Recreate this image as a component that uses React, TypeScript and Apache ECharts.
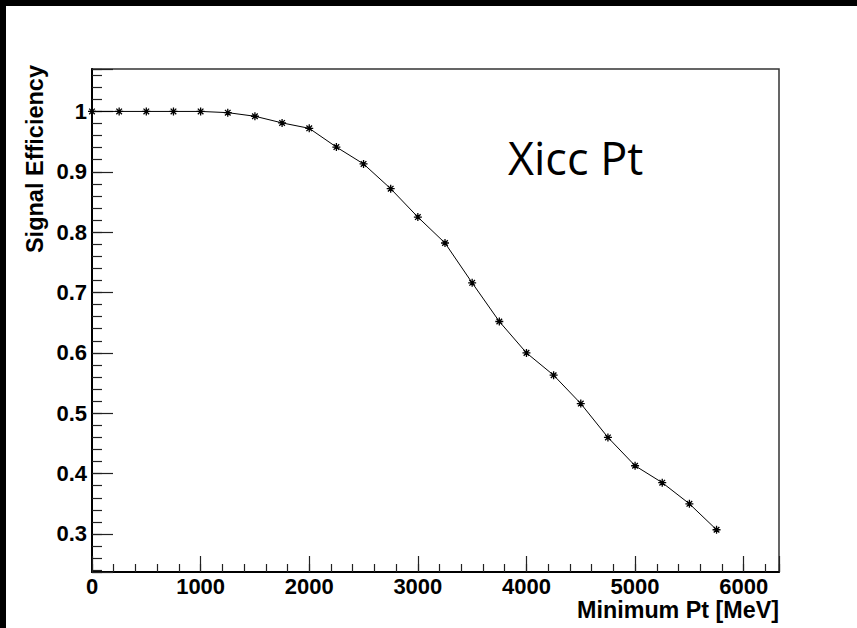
import React, { useEffect, useRef } from "react";
import * as echarts from "echarts";

// ---- data ----
const minPtCuts = [
  0, 250, 500, 750, 1000, 1250, 1500, 1750, 2000, 2250, 2500, 2750, 3000,
  3250, 3500, 3750, 4000, 4250, 4500, 4750, 5000, 5250, 5500, 5750,
];
const signalEfficiency = [
  1.0, 1.0, 1.0, 1.0, 1.0, 0.998, 0.992, 0.981, 0.972, 0.941, 0.913, 0.872,
  0.825, 0.782, 0.716, 0.652, 0.6, 0.563, 0.516, 0.46, 0.413, 0.385, 0.35,
  0.307,
];
const xRange = [0, 6325];
const yRange = [0.237, 1.0703];
const xMajorStep = 1000;
const xMinorStep = 200;
const xAxisTitle = "Minimum Pt [MeV]";
const yAxisTitle = "Signal Efficiency";
const plotLabel = "Xicc Pt";

const FONT = "'Liberation Sans', Arial, Helvetica, sans-serif";

export default function App() {
  const ref = useRef<HTMLDivElement>(null);

  useEffect(() => {
    if (!ref.current) return;
    const chart = echarts.init(ref.current, undefined, { renderer: "svg" });
    const data = minPtCuts.map((x, i) => [x, signalEfficiency[i]]);

    const option: any = {
      animation: false,
      backgroundColor: "#ffffff",
      grid: {
        left: 92,
        top: 69,
        right: 78,
        bottom: 56,
        show: true,
        borderColor: "#333333",
        borderWidth: 1.5,
        backgroundColor: "transparent",
        containLabel: false,
        outerBoundsMode: "none",
      },
      xAxis: [
        {
          type: "value",
          min: xRange[0],
          max: xRange[1],
          interval: xMajorStep,
          position: "bottom",
          axisLine: { show: true, lineStyle: { color: "#000", width: 2 } },
          axisTick: {
            show: true,
            inside: true,
            length: 16,
            lineStyle: { color: "#222", width: 1.2 },
          },
          axisLabel: {
            show: true,
            margin: 5,
            color: "#000",
            fontFamily: FONT,
            fontWeight: "bold",
            fontSize: 22,
            lineHeight: 18,
            formatter: (v: number) =>
              Math.abs(v % xMajorStep) < 1e-6 ? String(Math.round(v)) : "",
          },
          splitLine: { show: false },
        },
        {
          type: "value",
          min: xRange[0],
          max: xRange[1],
          interval: xMinorStep,
          position: "bottom",
          axisLine: { show: false },
          axisTick: {
            show: true,
            inside: true,
            length: 8,
            lineStyle: { color: "#222", width: 1.2 },
          },
          axisLabel: { show: false },
          splitLine: { show: false },
        },
      ],
      yAxis: [
        {
          type: "value",
          min: yRange[0],
          max: yRange[1],
          splitNumber: 8,
          position: "left",
          axisLine: { show: true, lineStyle: { color: "#000", width: 2 } },
          axisTick: {
            show: true,
            inside: true,
            length: 21,
            lineStyle: { color: "#222", width: 1.2 },
          },
          axisLabel: {
            show: true,
            margin: 5,
            color: "#000",
            fontFamily: FONT,
            fontWeight: "bold",
            fontSize: 22,
            formatter: (v: number) => {
              const t = v * 10;
              if (Math.abs(t - Math.round(t)) > 1e-6) return "";
              const r = Math.round(t) / 10;
              return r === 1 ? "1" : r.toFixed(1);
            },
          },
          splitLine: { show: false },
        },
        {
          type: "value",
          min: yRange[0],
          max: yRange[1],
          splitNumber: 42,
          position: "left",
          offset: 0,
          axisLine: { show: false },
          axisTick: {
            show: true,
            inside: true,
            length: 10,
            lineStyle: { color: "#222", width: 1.2 },
          },
          axisLabel: { show: false },
          splitLine: { show: false },
        },
      ],
      series: [
        {
          type: "line",
          xAxisIndex: 0,
          yAxisIndex: 0,
          data,
          showSymbol: true,
          showAllSymbol: true,
          symbol: "path://M0,5L10,5M5,0L5,10M1.5,1.5L8.5,8.5M8.5,1.5L1.5,8.5",
          symbolSize: 8,
          itemStyle: { color: "#000", borderColor: "#000", borderWidth: 1.3 },
          lineStyle: { color: "#000", width: 1 },
          z: 3,
        },
      ],
      graphic: [
        {
          type: "rect",
          shape: { x: 0, y: 0, width: 857, height: 6 },
          style: { fill: "#000" },
          z: 100,
        },
        {
          type: "rect",
          shape: { x: 0, y: 0, width: 6, height: 628 },
          style: { fill: "#000" },
          z: 100,
        },
        {
          type: "text",
          x: 779,
          y: 609.5,
          style: {
            text: xAxisTitle,
            font: `bold 23.3px ${FONT}`,
            lineHeight: 19,
            fill: "#000",
            align: "right",
            verticalAlign: "middle",
          },
        },
        {
          type: "text",
          x: 35,
          y: 65,
          rotation: Math.PI / 2,
          style: {
            text: yAxisTitle,
            font: `bold 23.5px ${FONT}`,
            fill: "#000",
            align: "right",
            verticalAlign: "middle",
          },
        },
        {
          type: "text",
          x: 508,
          y: 157,
          style: {
            text: plotLabel,
            font: `45px 'Open Sans', 'Noto Sans', sans-serif`,
            fill: "#000",
            align: "left",
            verticalAlign: "middle",
          },
        },
      ],
    };

    chart.setOption(option);
    return () => chart.dispose();
  }, []);

  return (
    <div
      ref={ref}
      style={{
        position: "fixed",
        left: 0,
        top: 0,
        width: 857,
        height: 628,
        background: "#fff",
      }}
    />
  );
}
